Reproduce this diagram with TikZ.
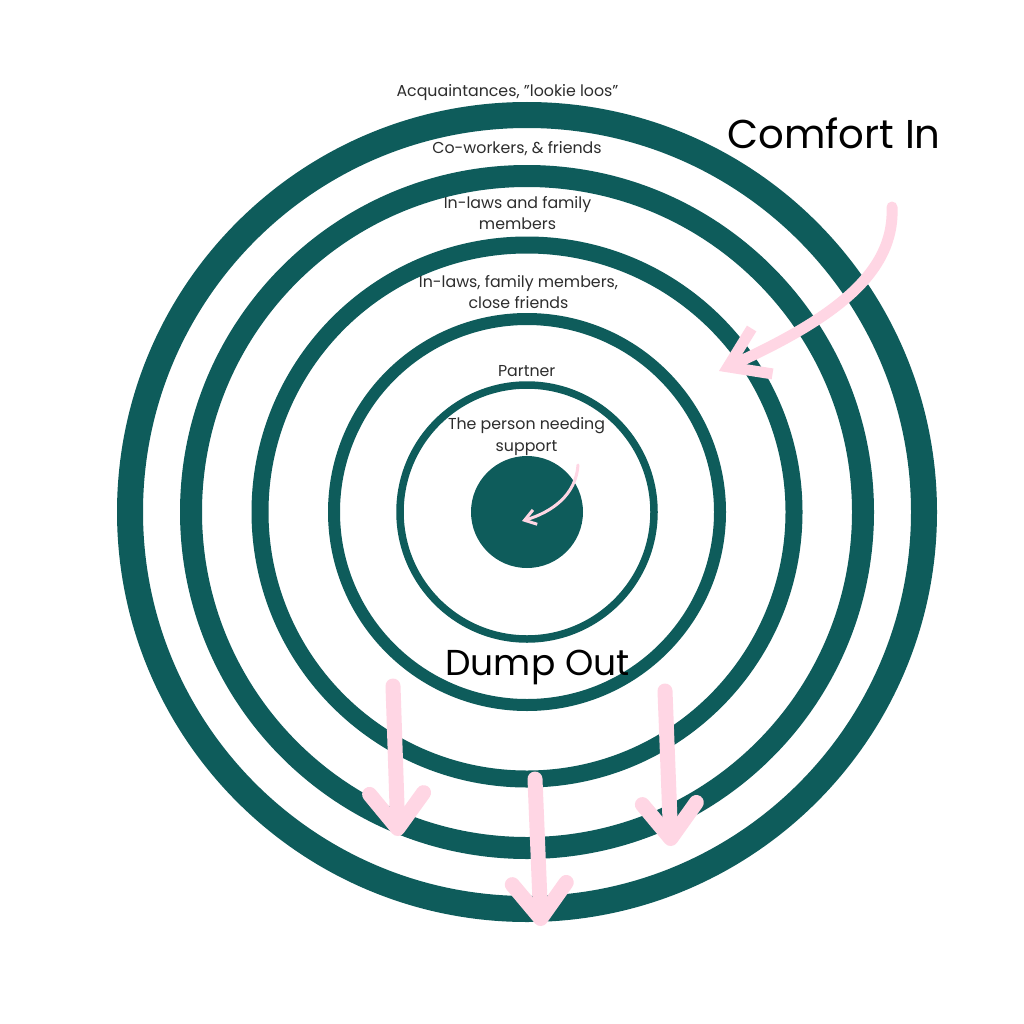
\documentclass[tikz,border=0pt]{standalone}
\usepackage{fontspec}
\setmainfont{Poppins}
\usetikzlibrary{arrows.meta}

\definecolor{sarcelle}{RGB}{14, 92, 91}
\definecolor{rose}{RGB}{255, 214, 228}
\definecolor{gris}{RGB}{45, 45, 45}
\definecolor{noir}{RGB}{0, 0, 0}
\definecolor{blanc}{RGB}{255, 255, 255}
\newcommand{\pix}{0.02cm}

\begin{document}
\begin{tikzpicture}[x=0.02cm, y=-0.02cm,
    petit/.style={text=gris, font=\fontsize{9}{12}\selectfont, align=center, anchor=base, inner sep=0pt},
    grand/.style={text=noir, anchor=base, inner sep=0pt},
    fleche/.style={draw=rose, line cap=round, line join=round}]
  \fill[blanc] (0, 0) rectangle (1024, 1024);
  \useasboundingbox (0, 0) rectangle (1024, 1024);
  % anneaux
  \foreach \r/\w in {397/26, 336/22, 267/17, 193/12, 127/7.5} {
    \draw[sarcelle, line width=\w*\pix] (527, 512) circle [radius=\r*\pix];
  }
  \fill[sarcelle] (527, 512) circle [radius=56*\pix];
  % textes (base = derniere ligne)
  \node[petit] (connaissances) at (507.5, 96) {Acquaintances, \symbol{34}lookie loos\symbol{34}};
  \node[petit] (collegues) at (517, 153.3) {Co-workers, \& friends};
  \node[petit] (famille) at (517.5, 229.3) {In-laws and family\\members};
  \node[petit] (proches) at (518.5, 308.3) {In-laws, family members,\\close friends};
  \node[petit] (partenaire) at (526.7, 376.7) {Partner};
  \node[petit] (personne) at (526.5, 451) {The person needing\\support};
  \node[grand, font=\fontsize{22.9}{27}\selectfont] (reconfort) at (834, 148.3) {Comfort In};
  \node[grand, font=\fontsize{20.5}{24}\selectfont] (vider) at (537.5, 675) {Dump Out};
  % fleches
  \coordinate (in0) at (892, 207);
  \coordinate (in1) at (719, 371);
  \draw[fleche, line width=11*\pix, -{Straight Barb[length=0.75cm, width=1cm]}]
    (in0) .. controls (895, 275) and (830, 320) .. (in1);
  \coordinate (centre0) at (578, 465);
  \coordinate (centre1) at (522, 521);
  \draw[fleche, line width=3*\pix, -{Straight Barb[length=0.22cm, width=0.3cm]}]
    (centre0) .. controls (576, 495) and (552, 512) .. (centre1);
  \foreach \n/\xa/\ya/\xb/\yb in {a/393/686/398/836, b/535/779/541/926, c/665/691/671/846} {
    \coordinate (out\n0) at (\xa, \ya);
    \coordinate (out\n1) at (\xb, \yb);
    \draw[fleche, line width=15*\pix, -{Straight Barb[round, length=0.7cm, width=1.08cm]}]
      (out\n0) -- (out\n1);
  }
\end{tikzpicture}
\end{document}
